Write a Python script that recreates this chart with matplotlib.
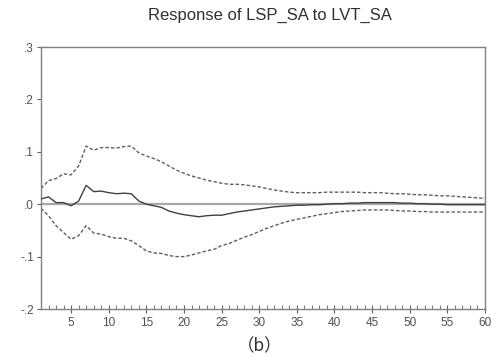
import matplotlib
matplotlib.use("Agg")
import matplotlib.pyplot as plt
from matplotlib.ticker import FuncFormatter, MultipleLocator

plt.rcParams["font.family"] = ["Liberation Sans", "Noto Sans CJK SC", "DejaVu Sans"]

# periods 1..60
periods = list(range(1, 61))

# impulse response (solid)
response = [0.010, 0.014, 0.003, 0.003, -0.003, 0.006, 0.036, 0.024, 0.025, 0.022,
            0.020, 0.021, 0.020, 0.006, 0.000, -0.003, -0.006, -0.013, -0.017, -0.020,
            -0.022, -0.024, -0.022, -0.021, -0.021, -0.018, -0.015, -0.013, -0.011, -0.009,
            -0.007, -0.005, -0.004, -0.003, -0.002, -0.002, -0.001, -0.001, 0.000, 0.001,
            0.001, 0.002, 0.002, 0.003, 0.003, 0.003, 0.003, 0.003, 0.002, 0.002,
            0.001, 0.001, 0.000, 0.000, -0.001, -0.001, -0.001, -0.001, -0.001, -0.001]

# +/- 2 s.e. bands (dashed)
upper = [0.030, 0.045, 0.049, 0.058, 0.056, 0.073, 0.111, 0.103, 0.108, 0.108,
         0.107, 0.110, 0.111, 0.098, 0.092, 0.087, 0.081, 0.073, 0.065, 0.059,
         0.054, 0.050, 0.046, 0.043, 0.040, 0.038, 0.038, 0.037, 0.035, 0.033,
         0.030, 0.027, 0.025, 0.023, 0.022, 0.022, 0.022, 0.022, 0.023, 0.023,
         0.023, 0.023, 0.023, 0.022, 0.022, 0.022, 0.021, 0.020, 0.020, 0.019,
         0.018, 0.018, 0.017, 0.016, 0.016, 0.015, 0.014, 0.013, 0.012, 0.011]

lower = [-0.008, -0.022, -0.041, -0.054, -0.067, -0.060, -0.041, -0.055, -0.057, -0.062,
         -0.065, -0.065, -0.070, -0.079, -0.089, -0.093, -0.094, -0.098, -0.100, -0.100,
         -0.097, -0.093, -0.089, -0.086, -0.079, -0.075, -0.069, -0.063, -0.058, -0.052,
         -0.046, -0.041, -0.036, -0.032, -0.029, -0.026, -0.023, -0.020, -0.018, -0.016,
         -0.014, -0.013, -0.012, -0.011, -0.011, -0.011, -0.011, -0.012, -0.013, -0.013,
         -0.014, -0.014, -0.015, -0.015, -0.015, -0.015, -0.015, -0.015, -0.015, -0.015]

fig = plt.figure(figsize=(4.92, 3.58), dpi=100)
ax = fig.add_axes([41/492, 49/358, 444/492, 262/358])

ax.axhline(0, color="#a8a8a8", lw=1.6, zorder=1)
ax.plot(periods, response, color="#404040", lw=1.0, zorder=3)
ax.plot(periods, upper, color="#606060", lw=1.0, ls=(0, (2.5, 1.5)), zorder=2)
ax.plot(periods, lower, color="#606060", lw=1.0, ls=(0, (2.5, 1.5)), zorder=2)

ax.set_xlim(1, 60)
ax.set_ylim(-0.2, 0.3)
ax.xaxis.set_major_locator(MultipleLocator(5))
ax.xaxis.set_minor_locator(MultipleLocator(1))
ax.yaxis.set_major_locator(MultipleLocator(0.1))

def fmt(v, pos):
    s = "%.1f" % v
    if s == "-0.0":
        s = "0.0"
    return s.replace("0.", ".", 1)

ax.yaxis.set_major_formatter(FuncFormatter(fmt))

for sp in ax.spines.values():
    sp.set_color("#808080")
    sp.set_linewidth(1.0)

ax.tick_params(axis="x", which="major", direction="inout", length=6, color="#606060",
               labelsize=8.5, labelcolor="#505050", pad=3)
ax.tick_params(axis="x", which="minor", direction="in", length=3, color="#606060")
ax.tick_params(axis="y", which="major", direction="out", length=3, color="#606060",
               labelsize=8.5, labelcolor="#505050", pad=2)

fig.text(270/492, 1 - 15/358, "Response of LSP_SA to LVT_SA", ha="center", va="center",
         fontsize=12, color="#303030")
fig.text(260/492, 12/358, "（b）", ha="center", va="center", fontsize=12.5, color="#303030",
         family=["Noto Sans CJK SC", "DejaVu Sans"])

fig.savefig("out.png", dpi=100)
